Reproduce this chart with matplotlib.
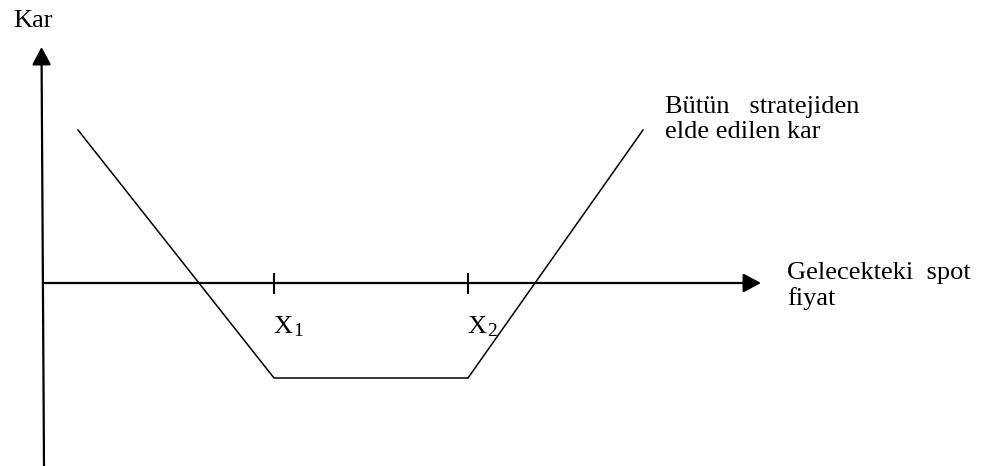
import matplotlib
matplotlib.use("Agg")
import matplotlib.pyplot as plt
from matplotlib.patches import FancyArrowPatch

plt.rcParams['font.family'] = ['Liberation Serif', 'DejaVu Serif']

# Payoff of the whole strategy (strangle), in diagram units
spot_price = [35, 231, 425, 600]
profit = [153, -95, -95, 153]
strikes = [231, 425]
strike_subscripts = ['1', '2']

y_label = 'Kar'
x_label = 'Gelecekteki  spot\nfiyat'
curve_label = 'Bütün   stratejiden\nelde edilen kar'

fig = plt.figure(figsize=(9.85, 4.66), dpi=100)
ax = fig.add_axes([0, 0, 1, 1])
ax.set_xlim(-43, 942)
ax.set_ylim(-183, 283)
ax.axis('off')

# axes with arrows
hl = 15 / 1.389
hw = 8 / 1.389
for (p0, p1) in [((0, 0), (718, 0)), ((1, -183), (-1.5, 236))]:
    arr = FancyArrowPatch(p0, p1, arrowstyle=f'-|>,head_length={hl},head_width={hw}',
                          mutation_scale=1, lw=1.6, color='black',
                          shrinkA=0, shrinkB=0)
    ax.add_patch(arr)

# strike ticks
for k in strikes:
    ax.plot([k, k], [10, -11], color='black', lw=1.5, solid_capstyle='butt')

# payoff line
ax.plot(spot_price, profit, color='black', lw=1.1)

fs = 19
ax.text(-30, 256, y_label, fontsize=fs, ha='left', va='baseline')
ax.text(744, -22, x_label, fontsize=fs, ha='left', va='baseline', linespacing=1.17)
ax.text(622, 145, curve_label, fontsize=fs, ha='left', va='baseline', linespacing=1.2)

for k, s in zip(strikes, strike_subscripts):
    ax.text(k - 1, -50, 'X', fontsize=fs, ha='left', va='baseline')
    ax.text(k + 19, -53, s, fontsize=14, ha='left', va='baseline')

fig.savefig('out.png', dpi=100)
